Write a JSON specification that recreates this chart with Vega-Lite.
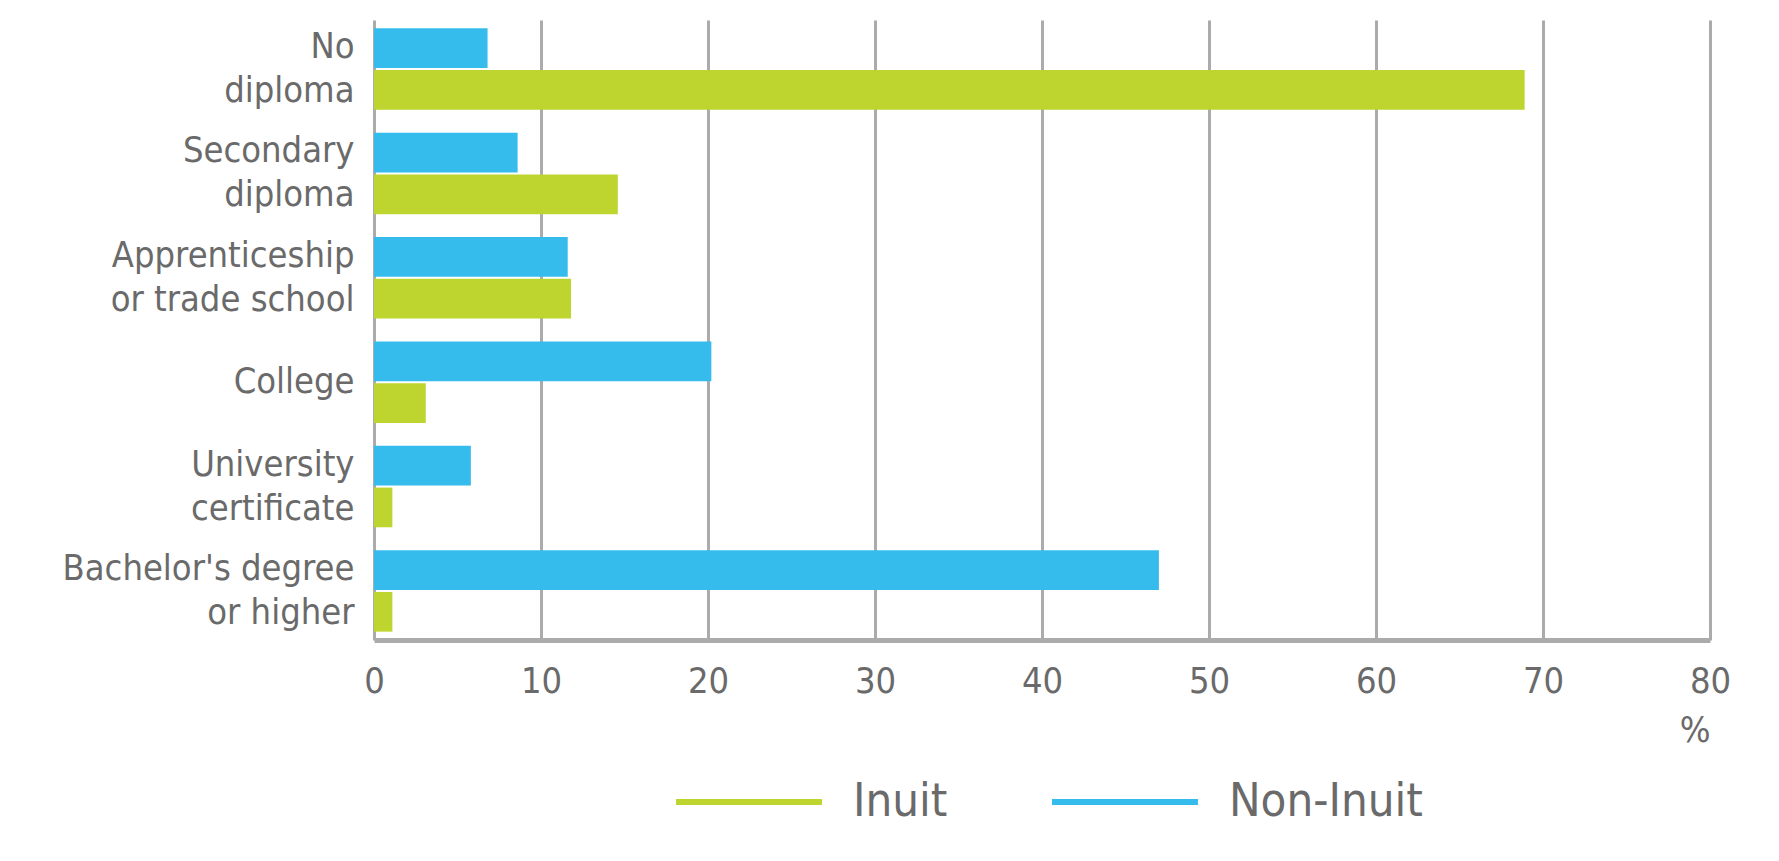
{
  "$schema": "https://vega.github.io/schema/vega-lite/v6.json",
  "autosize": {"type": "none"},
  "padding": {"left": 374, "top": 20, "right": 69, "bottom": 221},
  "width": 1336,
  "height": 620,
  "background": "white",
  "config": {
    "view": {"stroke": null},
    "font": "DejaVu Sans Condensed, sans-serif"
  },
  "data": {
    "values": [
      {"level": "No diploma", "group": "Inuit", "pct": 68.9},
      {"level": "No diploma", "group": "Non-Inuit", "pct": 6.8},
      {"level": "Secondary diploma", "group": "Inuit", "pct": 14.6},
      {"level": "Secondary diploma", "group": "Non-Inuit", "pct": 8.6},
      {"level": "Apprenticeship or trade school", "group": "Inuit", "pct": 11.8},
      {"level": "Apprenticeship or trade school", "group": "Non-Inuit", "pct": 11.6},
      {"level": "College", "group": "Inuit", "pct": 3.1},
      {"level": "College", "group": "Non-Inuit", "pct": 20.2},
      {"level": "University certificate", "group": "Inuit", "pct": 1.1},
      {"level": "University certificate", "group": "Non-Inuit", "pct": 5.8},
      {"level": "Bachelor's degree or higher", "group": "Inuit", "pct": 1.1},
      {"level": "Bachelor's degree or higher", "group": "Non-Inuit", "pct": 47.0}
    ]
  },
  "mark": {"type": "bar"},
  "encoding": {
    "y": {
      "field": "level",
      "type": "nominal",
      "sort": null,
      "scale": {"paddingInner": 0.22, "paddingOuter": 0.08},
      "axis": {
        "title": null,
        "domain": false,
        "ticks": false,
        "grid": false,
        "labelFontSize": 36,
        "labelColor": "#6a6a6a",
        "labelPadding": 20,
        "labelLineHeight": 22,
        "labelLimit": 400,
        "labelOffset": -22,
        "labelExpr": "datum.label == 'No diploma' ? ['No', '\u200b', 'diploma'] : datum.label == 'Secondary diploma' ? ['Secondary', '\u200b', 'diploma'] : datum.label == 'Apprenticeship or trade school' ? ['Apprenticeship', '\u200b', 'or trade school'] : datum.label == 'University certificate' ? ['University', '\u200b', 'certificate'] : datum.label == \"Bachelor's degree or higher\" ? [\"Bachelor's degree \", '\u200b', 'or higher'] : datum.label == 'College' ? ['\u200b', 'College'] : datum.label"
      }
    },
    "yOffset": {
      "field": "group",
      "type": "nominal",
      "sort": ["Non-Inuit", "Inuit"],
      "scale": {"paddingInner": 0.05}
    },
    "x": {
      "field": "pct",
      "type": "quantitative",
      "scale": {"domain": [0, 80], "nice": false},
      "axis": {
        "values": [0, 10, 20, 30, 40, 50, 60, 70, 80],
        "title": "%",
        "titleAnchor": "end",
        "titleAlign": "right",
        "titleFontSize": 36,
        "titleFontWeight": "normal",
        "titleColor": "#6a6a6a",
        "titlePadding": 14,
        "grid": true,
        "gridColor": "#ababab",
        "gridWidth": 3,
        "domain": true,
        "domainColor": "#ababab",
        "domainWidth": 5,
        "ticks": false,
        "labelFlush": false,
        "labelFontSize": 36,
        "labelColor": "#6a6a6a",
        "labelPadding": 24
      }
    },
    "color": {
      "field": "group",
      "type": "nominal",
      "scale": {"domain": ["Inuit", "Non-Inuit"], "range": ["#bdd52e", "#35bcec"]},
      "legend": {
        "title": null,
        "orient": "none",
        "legendX": 299,
        "legendY": 706,
        "direction": "horizontal",
        "symbolType": "stroke",
        "symbolSize": 21300,
        "symbolStrokeWidth": 6,
        "labelFontSize": 47,
        "labelColor": "#6a6a6a",
        "labelOffset": 28,
        "columnPadding": 92,
        "labelLimit": 400,
        "encode": {
          "symbols": {"update": {"stroke": {"scale": "color", "field": "value"}, "strokeWidth": {"value": 6}}}
        }
      }
    }
  }
}
